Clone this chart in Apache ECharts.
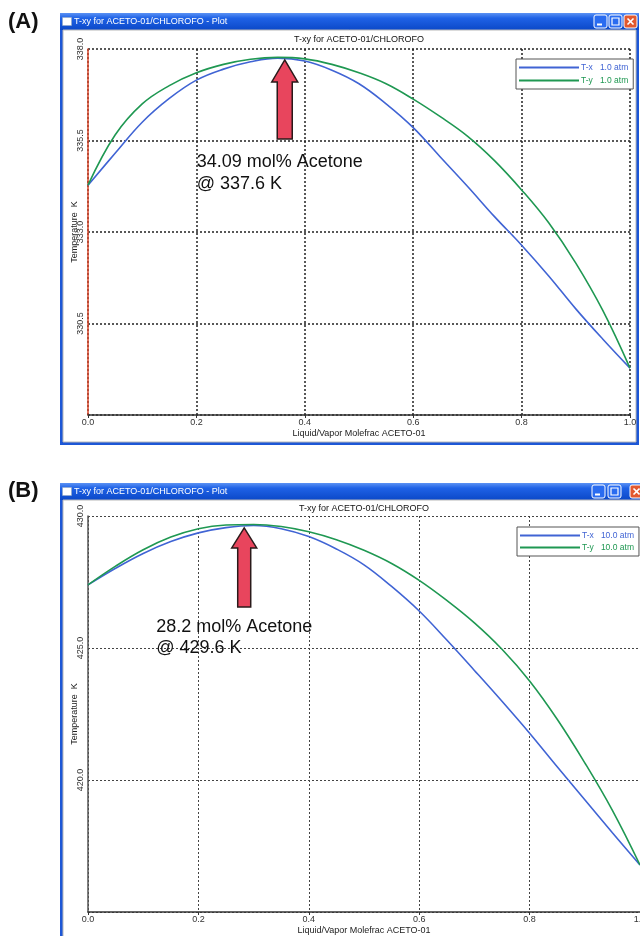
<!DOCTYPE html>
<html>
<head>
<meta charset="utf-8">
<script src="https://cdn.jsdelivr.net/npm/echarts@6/dist/echarts.min.js"></script>
<style>
  html, body { margin: 0; padding: 0; background: #fff; }
  #chart { width: 640px; height: 936px; }
</style>
</head>
<body>
<div id="chart"></div>
<script>
// mole fraction of acetone, liquid or vapour
const xValues = [0, 0.05, 0.1, 0.15, 0.2, 0.25, 0.3, 0.35, 0.4, 0.45, 0.5,
                 0.55, 0.6, 0.65, 0.7, 0.75, 0.8, 0.85, 0.9, 0.95, 1.0];

// (A) 1.0 atm, temperature in K
const txA = [334.28, 335.15, 336.0, 336.65, 337.15, 337.45, 337.65, 337.75, 337.67, 337.42, 337.05,
             336.5, 335.85, 335.05, 334.25, 333.42, 332.64, 331.8, 330.9, 330.07, 329.28];
const tyA = [334.28, 335.65, 336.5, 337.0, 337.35, 337.58, 337.72, 337.77, 337.73, 337.58, 337.35,
             337.05, 336.63, 336.15, 335.62, 334.95, 334.15, 333.25, 332.15, 330.85, 329.28];

// (B) 10.0 atm, temperature in K
const txB = [427.39, 428.02, 428.58, 429.03, 429.36, 429.56, 429.64, 429.52, 429.22, 428.75, 428.15,
             427.33, 426.4, 425.3, 424.15, 422.98, 421.77, 420.5, 419.25, 418.0, 416.78];
const tyB = [427.39, 428.1, 428.72, 429.2, 429.52, 429.66, 429.68, 429.6, 429.4, 429.1, 428.7,
             428.2, 427.56, 426.8, 425.95, 424.95, 423.75, 422.3, 420.65, 418.85, 416.78];

// azeotrope arrows (tip in data coords) and their notes
const peakA = [0.363, 337.7];
const peakB = [0.283, 429.55];
const noteA = ['34.09 mol% Acetone', '@ 337.6 K'];
const noteB = ['28.2 mol% Acetone', '@ 429.6 K'];

const legendA = ['T-x   1.0 atm', 'T-y   1.0 atm'];
const legendB = ['T-x   10.0 atm', 'T-y   10.0 atm'];

const windowTitle = 'T-xy for ACETO-01/CHLOROFO - Plot';
const plotTitle = 'T-xy for ACETO-01/CHLOROFO';
const xName = 'Liquid/Vapor Molefrac ACETO-01';
const yName = 'Temperature  K';

const BLUE = '#4064d4';
const GREEN = '#1f9852';
const FONT = 'Liberation Sans, Arial, sans-serif';

const chart = echarts.init(document.getElementById('chart'), null, { renderer: 'canvas' });

const pairs = (ys) => xValues.map((x, i) => [x, ys[i]]);

function xAxis(gridIndex, gridColor, gridWidth) {
    return {
        type: 'value', gridIndex: gridIndex,
        min: 0, max: 1, interval: 0.2,
        name: xName, nameLocation: 'middle', nameGap: 14, nameMoveOverlap: false,
        nameTextStyle: { fontSize: 9, color: '#222', fontFamily: FONT },
        axisLine: { lineStyle: { color: '#333', width: 1.5 } },
        axisTick: { show: true, length: 3, lineStyle: { color: '#333' } },
        axisLabel: { fontSize: 9, color: '#333', margin: 3, fontFamily: FONT,
                     formatter: (v) => v.toFixed(1) },
        splitLine: { show: true, lineStyle: { color: gridColor, width: gridWidth, type: [2, 2] } }
    };
}

function yAxis(gridIndex, min, max, interval, lineColor, gridColor, gridWidth) {
    return {
        type: 'value', gridIndex: gridIndex,
        min: min, max: max, interval: interval,
        name: yName, nameLocation: 'middle', nameGap: 9, nameRotate: 90, nameMoveOverlap: false,
        nameTextStyle: { fontSize: 9, color: '#222', fontFamily: FONT },
        axisLine: { show: true, lineStyle: { color: lineColor, width: 1.5 } },
        axisTick: { show: false },
        axisLabel: { fontSize: 9, color: '#333', rotate: 90, margin: 3, fontFamily: FONT,
                     showMinLabel: false, formatter: (v) => v.toFixed(1) },
        splitLine: { show: true, lineStyle: { color: gridColor, width: gridWidth, type: [2, 2] } }
    };
}

function lineSeries(name, data, color, axis) {
    return {
        type: 'line', name: name, data: data,
        xAxisIndex: axis, yAxisIndex: axis,
        symbol: 'none', showSymbol: false, smooth: 0.4,
        lineStyle: { color: color, width: 1.6 },
        itemStyle: { color: color },
        z: 3
    };
}

function legend(names, left, top, gap) {
    return {
        orient: 'vertical', left: left, top: top,
        data: [
            { name: names[0], textStyle: { color: BLUE } },
            { name: names[1], textStyle: { color: GREEN } }
        ],
        icon: 'rect', itemWidth: 60, itemHeight: 2, itemGap: gap,
        padding: [4, 5, 4, 3],
        borderColor: '#555', borderWidth: 1, backgroundColor: '#fff',
        textStyle: { fontSize: 8.5, fontFamily: FONT, padding: [0, 0, 0, -3] },
        selectedMode: false
    };
}

// XP style window frame drawn behind each plot
function windowFrame(y0, width, height, buttons) {
    const els = [];
    els.push({ type: 'rect', z: -20, shape: { x: 60, y: y0, width: width, height: height },
               style: { fill: '#1d57d6' } });
    els.push({ type: 'rect', z: -19, shape: { x: 60, y: y0, width: width, height: 17 },
               style: { fill: new echarts.graphic.LinearGradient(0, 0, 0, 1, [
                   { offset: 0, color: '#5b92f4' }, { offset: 0.3, color: '#1f62e6' },
                   { offset: 1, color: '#0b48c8' }]) } });
    els.push({ type: 'rect', z: -18, shape: { x: 63, y: y0 + 17, width: width - 6, height: height - 20 },
               style: { fill: '#fff', stroke: '#b8b8b8', lineWidth: 1 } });
    // window icon + caption
    els.push({ type: 'rect', z: -17, shape: { x: 62.5, y: y0 + 4.5, width: 9, height: 8 },
               style: { fill: '#fff', stroke: '#9ab', lineWidth: 0.5 } });
    els.push({ type: 'text', z: -17, style: { x: 74, y: y0 + 8.5, text: windowTitle, fill: '#fff',
               font: '9px ' + FONT, textVerticalAlign: 'middle' } });
    // caption buttons
    buttons.forEach((x, k) => {
        els.push({ type: 'rect', z: -17, shape: { x: x, y: y0 + 2, width: 13, height: 13, r: 2 },
                   style: { fill: k === 2 ? '#e2582e' : '#2a6cf0', stroke: '#fff', lineWidth: 1 } });
        if (k === 0) {
            els.push({ type: 'rect', z: -16, shape: { x: x + 3, y: y0 + 10.5, width: 5, height: 2 },
                       style: { fill: '#fff' } });
        } else if (k === 1) {
            els.push({ type: 'rect', z: -16, shape: { x: x + 3, y: y0 + 5, width: 7, height: 7 },
                       style: { fill: 'none', stroke: '#fff', lineWidth: 1.2 } });
        } else {
            els.push({ type: 'line', z: -16, shape: { x1: x + 3.5, y1: y0 + 5.5, x2: x + 9.5, y2: y0 + 11.5 },
                       style: { stroke: '#fff', lineWidth: 1.6 } });
            els.push({ type: 'line', z: -16, shape: { x1: x + 9.5, y1: y0 + 5.5, x2: x + 3.5, y2: y0 + 11.5 },
                       style: { stroke: '#fff', lineWidth: 1.6 } });
        }
    });
    return els;
}

const chrome = [].concat(
    windowFrame(13, 579, 432, [594, 609, 624]),
    windowFrame(483, 600, 480, [592, 608, 630]),
    [
        { type: 'text', style: { x: 8, y: 22, text: '(A)', fill: '#111', font: 'bold 22px ' + FONT,
                                 textVerticalAlign: 'middle' } },
        { type: 'text', style: { x: 8, y: 491, text: '(B)', fill: '#111', font: 'bold 22px ' + FONT,
                                 textVerticalAlign: 'middle' } },
        { type: 'text', style: { x: 359, y: 40, text: plotTitle, fill: '#111', font: '9px ' + FONT,
                                 textAlign: 'center', textVerticalAlign: 'middle' } },
        { type: 'text', style: { x: 364, y: 509, text: plotTitle, fill: '#111', font: '9px ' + FONT,
                                 textAlign: 'center', textVerticalAlign: 'middle' } }
    ]
);

const option = {
    animation: false,
    backgroundColor: '#fff',
    grid: [
        { left: 88, top: 49, width: 542, height: 366, outerBoundsMode: 'none', containLabel: false },
        { left: 88, top: 516, width: 552, height: 396, outerBoundsMode: 'none', containLabel: false }
    ],
    xAxis: [xAxis(0, '#222', 1.5), xAxis(1, '#444', 1)],
    yAxis: [
        yAxis(0, 328, 338, 2.5, '#d9462a', '#222', 1.5),
        yAxis(1, 415, 430, 5, '#555', '#444', 1)
    ],
    legend: [legend(legendA, 516, 59, 4), legend(legendB, 517, 527, 3)],
    series: [
        lineSeries(legendA[0], pairs(txA), BLUE, 0),
        lineSeries(legendA[1], pairs(tyA), GREEN, 0),
        lineSeries(legendB[0], pairs(txB), BLUE, 1),
        lineSeries(legendB[1], pairs(tyB), GREEN, 1)
    ],
    graphic: { elements: chrome }
};

chart.setOption(option);

// arrows placed from the azeotrope points through the axes
function arrow(tip, hw, hh, sw, len, note, dx, dy, lh) {
    const tx = tip[0], ty = tip[1];
    return [
        { type: 'polygon', z: 50,
          shape: { points: [[tx, ty], [tx + hw, ty + hh], [tx + sw, ty + hh], [tx + sw, ty + len],
                            [tx - sw, ty + len], [tx - sw, ty + hh], [tx - hw, ty + hh]] },
          style: { fill: '#e8455d', stroke: '#2a1a1a', lineWidth: 1.5 } },
        { type: 'text', z: 50, style: { x: tx + dx, y: ty + dy, text: note[0], fill: '#111',
                                        font: '18px ' + FONT, textVerticalAlign: 'middle' } },
        { type: 'text', z: 50, style: { x: tx + dx, y: ty + dy + lh, text: note[1], fill: '#111',
                                        font: '18px ' + FONT, textVerticalAlign: 'middle' } }
    ];
}

const tipA = chart.convertToPixel({ xAxisIndex: 0, yAxisIndex: 0 }, peakA);
const tipB = chart.convertToPixel({ xAxisIndex: 1, yAxisIndex: 1 }, peakB);

chart.setOption({
    graphic: {
        elements: chrome.concat(
            arrow(tipA, 13, 22, 7.5, 79, noteA, -88, 102, 22),
            arrow(tipB, 12.5, 20, 6.5, 79, noteB, -88, 99, 21)
        )
    }
});
</script>
</body>
</html>
